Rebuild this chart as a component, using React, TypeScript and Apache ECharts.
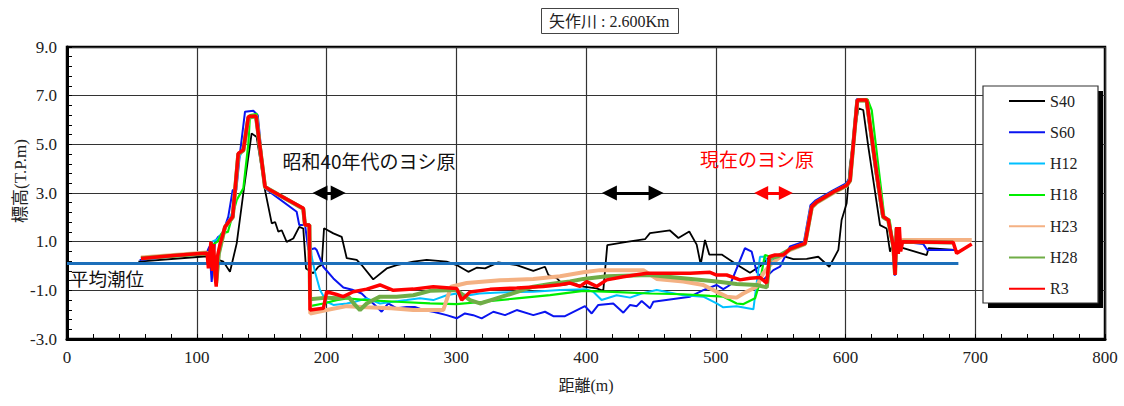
import React, { useEffect, useRef } from "react";
import * as echarts from "echarts";

// ---- data: [distance (m), elevation (T.P.m)] ----
const S40: number[][] = [
  [55, 0.18], [108, 0.4], [114, 0.3], [120.5, 0.18], [125.6, -0.24], [130.8, 0.93], [135.9, 2.99],
  [142.3, 5.45], [146.2, 5.3], [152.6, 3.12], [157.8, 1.75], [160.4, 1.81], [162.9, 1.41], [165.5, 1.47],
  [169.3, 0.99], [174.4, 1.13], [179, 1.61], [182.1, 1.54], [184.2, -0.1], [189.8, -0.3], [193.7, -0.03],
  [196.3, 0.04], [198.1, 1.55], [205.3, 1.34], [211.7, 1.2], [215.6, 0.32], [223.3, 0.25], [227.1, 0.04],
  [236, -0.55], [246.4, -0.1], [254.1, 0.04], [266.9, 0.18], [277.2, 0.25], [292.6, 0.18], [300.3, 0.04],
  [309.3, -0.24], [315.7, -0.07], [322.2, -0.1], [332.4, 0.15], [346.6, 0.04], [359.4, -0.2], [368.4, -0.03],
  [371, -0.37], [377.4, -0.5], [382.5, -0.78], [390.2, -0.71], [397.9, -0.85], [408.2, -0.92], [413.3, -1.02],
  [416.4, 0.86], [431.4, 0.99], [445.5, 1.1], [449.3, 1.35], [464.7, 1.46], [471.2, 1.15], [479.6, 1.42],
  [485.3, 0.88], [488.4, 0.06], [491.7, 1.07], [495, 0.47], [504.6, 0.47], [516.1, 0.06], [526.4, -0.28],
  [534.1, -0.01], [541.8, 0.4], [549.5, 0.45], [559.8, 0.28], [570.1, 0.29], [579, 0.38], [587.5, -0.03],
  [594.5, 0.66], [597, 1.89], [600.9, 2.58], [603.5, 4.22], [609.9, 6.48], [613.7, 6.41], [617.6, 4.9],
  [626.6, 1.68], [631.7, 1.54], [634.3, 0.59], [636.9, 0.93], [640.7, 0.8], [662.6, 0.45], [664, 0.73],
  [684.4, 0.66],
];

const S60: number[][] = [
  [56, 0.25], [107.7, 0.55], [109.7, 0.8], [111.5, -0.65], [114.1, 1.0], [116.6, 1.2], [119.7, 1.3],
  [124.3, 2.03], [127.7, 3.12], [130.5, 3.12], [133.3, 4.63], [137.2, 6.34], [143.6, 6.38], [147, 6.2],
  [152.6, 3.19], [177, 2.23], [179, 1.68], [183.5, 1.68], [186, 0.66], [191.1, 0.73], [192.4, 0.66],
  [197.5, -0.03], [205.3, -0.51], [213, -0.88], [220.6, -0.99], [227.1, -1.13], [231, -1.33], [236, -1.54],
  [242.5, -1.88], [247.6, -1.54], [254.1, -1.74], [261.8, -1.68], [268, -1.68], [274.6, -1.81], [282.3, -1.88],
  [292.6, -2.02], [300.3, -2.15], [306.7, -1.95], [313.1, -2.02], [319.6, -2.15], [328.6, -1.88], [337.6, -2.02],
  [346.6, -1.81], [359.4, -2.02], [368.4, -1.88], [374.8, -2.06], [383.8, -2.06], [399.2, -1.65], [404.4, -1.95],
  [409.5, -1.6], [421, -1.54], [428.8, -1.92], [434, -1.6], [439.1, -1.65], [442.9, -1.44], [449.3, -1.74],
  [451.9, -1.47], [480.2, -1.26], [490.4, -0.99], [500.7, -0.78], [505.8, -0.95], [511, -0.78], [522.5, 0.73],
  [527.7, 0.59], [531.5, -0.24], [536.6, -0.57], [544.4, -0.17], [549.5, -0.03], [557.2, 0.8], [568, 1.0],
  [573, 2.5], [577, 2.7], [590, 3.1], [600.5, 3.4], [603, 3.6], [608.5, 6.85], [615.5, 6.85], [623, 3.9],
  [628, 2.1], [632.5, 1.95], [636.5, 0.8], [638, -0.4], [639.5, 1.5], [641, 0.9], [643.3, 1.0], [660, 0.9],
  [663, 0.66], [684.4, 0.66],
];

const H12: number[][] = [
  [57, 0.3], [107.7, 0.5], [110, 0.3], [112, 1.0], [116, 1.1], [120, 1.4], [125, 1.9], [128, 2.3], [132, 4.4],
  [136, 4.8], [140, 6.1], [146, 6.15], [152.6, 3.25], [182, 2.35], [183.5, 1.7], [186.5, 1.7], [188.6, 0.38],
  [191.1, -0.24], [195, -0.99], [200.1, -1.47], [205.3, -1.6], [215.6, -1.54], [222, -1.47], [231, -1.33],
  [241.2, -1.54], [251.5, -1.47], [261.8, -1.4], [272, -1.33], [282.3, -1.4], [292.6, -1.2], [300.3, -1.13],
  [310, -1.2], [318, -1.13], [333.7, -1.09], [359.4, -1.06], [380, -0.99], [400.5, -0.96], [405.6, -1.06],
  [412, -1.4], [423.6, -1.2], [434, -1.3], [442.9, -1.13], [454.5, -0.99], [475, -1.2], [490.4, -1.26],
  [500.7, -1.54], [505.8, -1.7], [516.1, -1.65], [529, -1.78], [534.1, 0.38], [537.9, 0.38], [541.8, -0.03],
  [545, 0.3], [552, 0.45], [557, 0.7], [568.8, 0.93], [574, 2.44], [577.8, 2.63], [590.6, 3.04], [600.9, 3.32],
  [603.5, 3.52], [609, 6.8], [616, 6.8], [624, 3.8], [629, 2.0], [633, 1.9], [637, 0.8], [638.2, -0.35],
  [639.5, 1.5], [641, 0.9], [644, 1.0], [683, 0.95],
];

const H18: number[][] = [
  [57, 0.3], [107.7, 0.5], [110, 0.3], [113, 0.9], [116, 1.0], [119.2, 1.34], [124, 1.4], [130.8, 2.71],
  [135.9, 3.19], [139.8, 5.04], [141, 6.2], [146.2, 6.25], [152.6, 3.25], [182, 2.35], [183.5, 1.7],
  [186.5, 1.7], [187.3, -1.65], [197.6, -1.54], [207.8, -1.4], [215.6, -1.33], [231, -1.4], [254.1, -1.47],
  [279.8, -1.54], [300.3, -1.57], [320.9, -1.47], [346.6, -1.33], [372.3, -1.2], [398, -1.02], [420, -1.06],
  [449, -1.13], [475, -1.16], [495.6, -1.23], [506, -1.26], [516.1, -1.54], [521, -1.57], [530.3, -1.33],
  [534.1, -0.64], [537.9, 0.45], [541, 0.4], [546, 0.45], [552, 0.45], [557, 0.7], [568.8, 0.93], [574, 2.44],
  [577.8, 2.63], [590.6, 3.04], [600.9, 3.32], [603.5, 3.52], [609.5, 6.85], [617, 6.85], [620.2, 6.41],
  [626, 3.8], [630, 2.0], [634, 1.9], [637, 0.8], [638.2, -0.35], [639.5, 1.5], [641, 0.9], [644, 1.0],
  [683, 0.97],
];

const H23: number[][] = [
  [57, 0.35], [107.7, 0.55], [110, 0.3], [112, 0.9], [115, -0.6], [117, 0.6], [121.8, 1.6], [127.7, 2.0],
  [132, 4.6], [135.9, 4.75], [139.8, 6.1], [145.7, 6.15], [152.6, 3.25], [182.1, 2.35], [183.4, 1.68],
  [186.8, 1.68], [187.5, -1.95], [200.1, -1.81], [215.6, -1.65], [231, -1.7], [250, -1.74], [266.9, -1.81],
  [290, -1.81], [296, -0.85], [308, -0.7], [333.7, -0.59], [359.4, -0.53], [380, -0.42], [398, -0.26],
  [410.8, -0.17], [428.8, -0.17], [444.2, -0.17], [454.5, -0.53], [475, -0.64], [490.4, -0.78], [500.7, -1.06],
  [508.4, -1.26], [516.1, -1.3], [521.2, -1.13], [531.5, -0.85], [536.6, -0.3], [541.8, 0.04], [548, 0.3],
  [557, 0.65], [568.8, 0.9], [574, 2.4], [577.8, 2.6], [590.6, 3.0], [600.9, 3.3], [603.5, 3.5], [609.1, 6.8],
  [616.3, 6.8], [624, 3.8], [629.1, 2.0], [633, 1.88], [636.9, 0.8], [638.2, -0.35], [639.4, 1.55], [641, 0.9],
  [644, 1.07], [697.3, 1.07],
];

const H28: number[][] = [
  [57, 0.32], [107.7, 0.52], [110, 0.3], [112, 0.9], [115, -0.7], [117, 0.5], [121.8, 1.6], [127.7, 2.0],
  [132, 4.6], [135.9, 4.75], [139.8, 6.1], [145.7, 6.15], [152.6, 3.25], [182.1, 2.35], [183.4, 1.68],
  [186.8, 1.68], [187.3, -1.37], [200.1, -1.3], [209, -1.33], [216.9, -1.26], [222, -1.6], [225.8, -1.81],
  [231, -1.54], [236, -1.4], [241.2, -1.26], [254, -1.26], [266.9, -1.2], [279.8, -1.02], [300.3, -0.99],
  [305.4, -1.2], [310.6, -1.4], [318.3, -1.54], [328.6, -1.37], [338.9, -1.2], [359.4, -0.85], [372.3, -0.74],
  [387.7, -0.64], [398, -0.53], [416, -0.42], [428.8, -0.4], [449.3, -0.37], [475, -0.5], [500.7, -0.64],
  [516.1, -0.74], [531.5, -0.78], [539.3, -0.88], [541.8, 0.32], [548, 0.4], [557, 0.68], [568.8, 0.92],
  [574, 2.42], [577.8, 2.62], [590.6, 3.03], [600.9, 3.31], [603.5, 3.51], [609.1, 6.8], [616.3, 6.8],
  [624, 3.8], [629.1, 2.0], [633, 1.88], [636.9, 0.8], [638.2, -0.35], [639.4, 1.55], [641, 0.9], [644, 1.0],
  [683, 0.97],
];

const R3: number[][] = [
  [57, 0.31], [80, 0.42], [100, 0.5], [108, 0.52], [109, -0.1], [110, 0.5], [111, 1.0], [112, -0.2], [113, 0.9],
  [114, -0.3], [115, -0.85], [116, 0.4], [118, 0.9], [121.8, 1.61], [127.7, 2.03], [132, 4.63], [135.9, 4.77],
  [139.8, 6.14], [145.7, 6.16], [152.6, 3.26], [156.5, 3.12], [182.1, 2.37], [183.4, 1.68], [186.8, 1.68],
  [187.3, -1.81], [197.6, -1.74], [200.1, -1.06], [207.8, -1.17], [212.9, -1.26], [220.6, -1.06], [231, -0.95],
  [241.2, -0.78], [251.5, -1.0], [266.9, -0.95], [282.3, -0.85], [300.3, -0.92], [304.2, -1.4], [310.6, -1.07],
  [326, -0.96], [346.6, -0.9], [367, -0.84], [380, -0.77], [387.7, -0.7], [395.4, -0.84], [400.5, -0.64],
  [408.2, -0.84], [416, -0.57], [428.8, -0.44], [446.8, -0.3], [462.2, -0.3], [480.2, -0.3], [495.6, -0.26],
  [500.7, -0.37], [508.4, -0.37], [518.7, -0.57], [526.4, -0.5], [534, -0.47], [539.3, -0.7], [541.3, 0.38],
  [545.7, 0.45], [552, 0.45], [557.2, 0.7], [568.8, 0.93], [574, 2.44], [577.8, 2.63], [590.6, 3.04],
  [600.9, 3.32], [603.5, 3.52], [609.1, 6.82], [616.3, 6.82], [624, 3.81], [629.1, 2.03], [633, 1.89],
  [636.9, 0.79], [638.2, -0.37], [639.4, 1.6], [640.7, 0.5], [641.5, 1.6], [642.5, 0.6], [644, 1.0],
  [683, 0.97], [685.7, 0.52], [697.3, 0.9],
];

const meanTide: number[][] = [[0, 0.1], [687, 0.1]];

// reed-bed extents (distance m) drawn as double arrows at elevation 3.0
const arrowLevel = 3.0;
const blackArrows: number[][] = [[195, 209], [418, 454]];
const redArrows: number[][] = [[535, 554]];

const seriesNames = ["S40", "S60", "H12", "H18", "H23", "H28", "R3"];
const seriesData = [S40, S60, H12, H18, H23, H28, R3];
const seriesColors = ["#000000", "#0a14f0", "#00c0ff", "#00ee00", "#f4b183", "#70ad47", "#ff0000"];
const seriesWidths = [1.8, 2, 2, 2.2, 4, 4, 3.5];

const xTickLabels = ["0", "100", "200", "300", "400", "500", "600", "700", "800"];

const SERIF = "'Liberation Serif', 'Noto Sans CJK JP', serif";
const SANS = "'Noto Sans CJK JP', 'Noto Sans', sans-serif";

export default function App() {
  const ref = useRef<HTMLDivElement>(null);

  useEffect(() => {
    if (!ref.current) return;
    const chart = echarts.init(ref.current, undefined, { renderer: "svg" });

    const lineSeries: any[] = seriesNames.map((name, i) => ({
      name,
      type: "line",
      data: seriesData[i],
      symbol: "none",
      showSymbol: false,
      color: seriesColors[i],
      lineStyle: { color: seriesColors[i], width: seriesWidths[i] },
      z: 3 + i,
      silent: true,
    }));

    const tideSeries = {
      name: "平均潮位",
      type: "line",
      data: meanTide,
      symbol: "none",
      color: "#1c6fba",
      lineStyle: { color: "#1c6fba", width: 3 },
      z: 8,
      silent: true,
    };

    const mkArrows = (list: number[][], color: string, size: number) => ({
      silent: true,
      symbol: ["triangle", "triangle"],
      symbolSize: size,
      label: { show: false },
      lineStyle: { color, width: 3, type: "solid" },
      emphasis: { disabled: true },
      data: list.map((a) => [
        { coord: [a[0], arrowLevel] },
        { coord: [a[1], arrowLevel] },
      ]),
    });

    const arrowSeriesBlack = {
      name: "arrowsBlack",
      type: "line",
      data: [],
      z: 12,
      markLine: mkArrows(blackArrows, "#000", 15),
    };
    const arrowSeriesRed = {
      name: "arrowsRed",
      type: "line",
      data: [],
      z: 12,
      markLine: mkArrows(redArrows, "#ff0000", 14),
    };

    const order = [lineSeries[0], lineSeries[1], lineSeries[2], lineSeries[3], lineSeries[4], lineSeries[5], tideSeries, lineSeries[6], arrowSeriesBlack, arrowSeriesRed];

    chart.setOption({
      animation: false,
      backgroundColor: "#ffffff",
      title: {
        text: "矢作川 : 2.600Km",
        left: 541,
        top: 8,
        padding: [5, 9, 5, 8],
        borderColor: "#444",
        borderWidth: 1,
        textStyle: { fontFamily: SERIF, fontSize: 16, fontWeight: "normal", color: "#222" },
      },
      grid: {
        left: 67,
        right: 19,
        top: 47,
        bottom: 67,
        show: true,
        borderColor: "#000",
        borderWidth: 2.5,
        outerBoundsMode: "none",
      },
      legend: {
        data: seriesNames,
        orient: "vertical",
        left: 1008,
        top: 93,
        padding: 0,
        itemWidth: 36,
        itemHeight: 14,
        itemGap: 15.3,
        z: 20,
        selectedMode: false,
        itemStyle: { opacity: 0 },
        textStyle: { fontFamily: SERIF, fontSize: 16, lineHeight: 16, color: "#222" },
      },
      xAxis: {
        type: "value",
        min: 0,
        max: 800,
        interval: 100,
        name: "距離(m)",
        nameLocation: "middle",
        nameGap: 38,
        nameMoveOverlap: false,
        nameTextStyle: { fontFamily: SERIF, fontSize: 16, color: "#222" },
        axisLine: { onZero: false, lineStyle: { color: "#000", width: 3 } },
        axisTick: { inside: true, length: 5, lineStyle: { color: "#000" } },
        minorTick: { show: true, splitNumber: 5, length: 5, lineStyle: { color: "#000" } },
        splitLine: { show: true, lineStyle: { color: "#333", width: 1.2 } },
        axisLabel: {
          margin: 10,
          fontFamily: SERIF,
          fontSize: 17,
          color: "#222",
          formatter: (v: number) => xTickLabels[Math.round(v / 100)] ?? String(v),
        },
      },
      yAxis: {
        type: "value",
        min: -3,
        max: 9,
        interval: 2,
        name: "標高(T.P.m)",
        nameLocation: "middle",
        nameRotate: 90,
        nameGap: 38,
        nameMoveOverlap: false,
        nameTextStyle: { fontFamily: SERIF, fontSize: 17, color: "#222", padding: [0, 0, 0, 24] },
        axisLine: { onZero: false, lineStyle: { color: "#000", width: 3 } },
        axisTick: { inside: true, length: 5, lineStyle: { color: "#000" } },
        minorTick: { show: true, splitNumber: 5, length: 5, lineStyle: { color: "#000" } },
        splitLine: { show: true, lineStyle: { color: "#333", width: 1.2 } },
        axisLabel: {
          margin: 10,
          fontFamily: SERIF,
          fontSize: 17,
          color: "#222",
          formatter: (v: number) => v.toFixed(1),
        },
      },
      graphic: [
        { type: "rect", z: 14, silent: true, shape: { x: 988, y: 91, width: 115, height: 217 }, style: { fill: "#000" } },
        { type: "rect", z: 15, silent: true, shape: { x: 983, y: 86, width: 115, height: 217 }, style: { fill: "#fff", stroke: "#333", lineWidth: 1.2 } },
        { type: "text", z: 16, silent: true, x: 369, y: 160, style: { text: "昭和40年代のヨシ原", fill: "#111", font: `19px ${SANS}`, textAlign: "center", textVerticalAlign: "middle" } },
        { type: "text", z: 16, silent: true, x: 757, y: 158, style: { text: "現在のヨシ原", fill: "#ff0000", font: `19px ${SANS}`, textAlign: "center", textVerticalAlign: "middle" } },
        { type: "text", z: 16, silent: true, x: 70, y: 278, style: { text: "平均潮位", fill: "#111", font: `18.5px ${SANS}`, textAlign: "left", textVerticalAlign: "middle" } },
      ],
      series: order,
    });

    return () => chart.dispose();
  }, []);

  return <div ref={ref} style={{ width: 1124, height: 406, position: "absolute", left: 0, top: 0 }} />;
}
